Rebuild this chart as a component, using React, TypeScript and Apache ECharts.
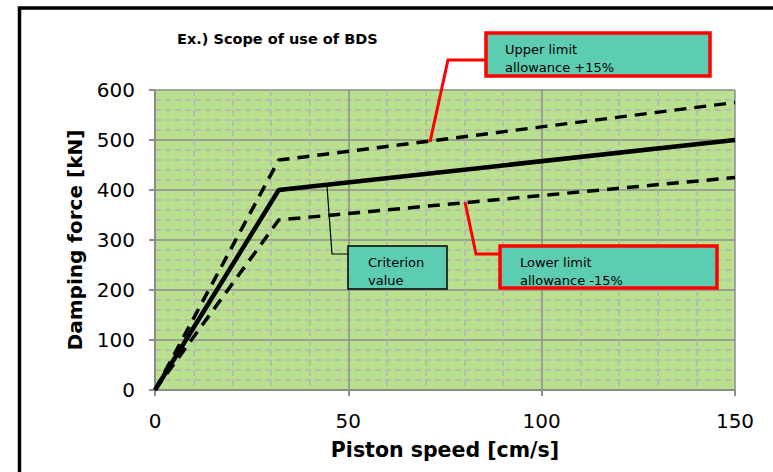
import React, { useEffect, useRef } from "react";
import * as echarts from "echarts";

const criterion: [number, number][] = [[0, 0], [32, 400], [150, 500]];
const upperLimit: [number, number][] = [[0, 0], [32, 460], [150, 575]];
const lowerLimit: [number, number][] = [[0, 0], [32, 340], [150, 425]];

const titleText = "Ex.) Scope of use of BDS";
const xName = "Piston speed [cm/s]";
const yName = "Damping force [kN]";
const upperLabel = ["Upper limit", "allowance +15%"];
const criterionLabel = ["Criterion", "value"];
const lowerLabel = ["Lower limit", "allowance -15%"];

const FONT = "'DejaVu Sans', Verdana, sans-serif";

export default function App() {
  const ref = useRef<HTMLDivElement>(null);
  useEffect(() => {
    if (!ref.current) return;
    const chart = echarts.init(ref.current, undefined, { renderer: "svg" });
    const boxText = (x: number, y: number, lines: string[]) => ({
      type: "text",
      left: x,
      top: y,
      z: 20,
      style: {
        text: lines.join("\n"),
        font: `13px ${FONT}`,
        fill: "#000",
        lineHeight: 18,
      },
    });
    chart.setOption({
      animation: false,
      backgroundColor: "#fff",
      title: {
        text: titleText,
        left: 172,
        top: 26,
        textStyle: { fontFamily: FONT, fontSize: 14.5, fontWeight: "bold", color: "#000" },
      },
      grid: {
        left: 155,
        right: 38,
        top: 90,
        bottom: 82,
        show: true,
        backgroundColor: "#b8e08f",
        borderWidth: 0,
      },
      xAxis: {
        type: "value",
        min: 0,
        max: 150,
        interval: 50,
        name: xName,
        nameLocation: "middle",
        nameGap: 49,
        nameTextStyle: { fontFamily: FONT, fontSize: 20.5, fontWeight: "bold", color: "#000" },
        axisLine: { show: true, lineStyle: { color: "#8c8c8c", width: 2 } },
        axisTick: { show: true, length: 6, lineStyle: { color: "#8c8c8c", width: 2 } },
        axisLabel: { fontFamily: FONT, fontSize: 20, color: "#000", margin: 21 },
        splitLine: { show: true, lineStyle: { color: "#8c8c8c", width: 1.5 } },
        minorTick: { show: false, splitNumber: 5 },
        minorSplitLine: { show: true, lineStyle: { color: "#b4b4b4", width: 1.5, type: [6, 4] } },
      },
      yAxis: {
        type: "value",
        min: 0,
        max: 600,
        interval: 100,
        name: yName,
        nameLocation: "middle",
        nameGap: 70,
        nameTextStyle: { fontFamily: FONT, fontSize: 20, fontWeight: "bold", color: "#000" },
        axisLine: { show: true, lineStyle: { color: "#8c8c8c", width: 2 } },
        axisTick: { show: true, length: 6, lineStyle: { color: "#8c8c8c", width: 2 } },
        axisLabel: { fontFamily: FONT, fontSize: 20, color: "#000", margin: 20 },
        splitLine: { show: true, lineStyle: { color: "#8c8c8c", width: 1.5 } },
        minorTick: { show: false, splitNumber: 5 },
        minorSplitLine: { show: true, lineStyle: { color: "#b4b4b4", width: 1.5, type: [6, 4] } },
      },
      series: [
        {
          name: "Upper limit",
          type: "line",
          data: upperLimit,
          symbol: "none",
          lineStyle: { color: "#000", width: 3.5, type: [12, 8] },
          z: 3,
        },
        {
          name: "Lower limit",
          type: "line",
          data: lowerLimit,
          symbol: "none",
          lineStyle: { color: "#000", width: 3.5, type: [12, 8] },
          z: 3,
        },
        {
          name: "Criterion",
          type: "line",
          data: criterion,
          symbol: "none",
          lineStyle: { color: "#000", width: 4.5 },
          z: 4,
        },
      ],
      graphic: [
        {
          type: "rect",
          shape: { x: 19.5, y: 8, width: 900, height: 600 },
          style: { fill: "none", stroke: "#000", lineWidth: 3.5 },
          z: 30,
          silent: true,
        },
        // upper limit callout
        {
          type: "polyline",
          shape: { points: [[486, 60], [448, 60], [430, 142]] },
          style: { stroke: "#ff0000", lineWidth: 3, fill: "none" },
          z: 15,
        },
        {
          type: "rect",
          shape: { x: 486, y: 33, width: 224, height: 43 },
          style: { fill: "#5ccdb0", stroke: "#ff0000", lineWidth: 3.5 },
          z: 16,
        },
        boxText(505, 40, upperLabel),
        // criterion callout
        {
          type: "polyline",
          shape: { points: [[348, 254], [332, 254], [327, 186]] },
          style: { stroke: "#000", lineWidth: 1.2, fill: "none" },
          z: 15,
        },
        {
          type: "rect",
          shape: { x: 348, y: 246, width: 99, height: 43 },
          style: { fill: "#5ccdb0", stroke: "#000", lineWidth: 1.5 },
          z: 16,
        },
        boxText(368, 253, criterionLabel),
        // lower limit callout
        {
          type: "polyline",
          shape: { points: [[500, 254], [476, 254], [465, 202]] },
          style: { stroke: "#ff0000", lineWidth: 3, fill: "none" },
          z: 15,
        },
        {
          type: "rect",
          shape: { x: 500, y: 246, width: 217, height: 42 },
          style: { fill: "#5ccdb0", stroke: "#ff0000", lineWidth: 3.5 },
          z: 16,
        },
        boxText(520, 253, lowerLabel),
      ],
    });
    return () => chart.dispose();
  }, []);
  return (
    <div
      ref={ref}
      style={{ position: "fixed", left: 0, top: 0, width: 773, height: 472 }}
    />
  );
}
